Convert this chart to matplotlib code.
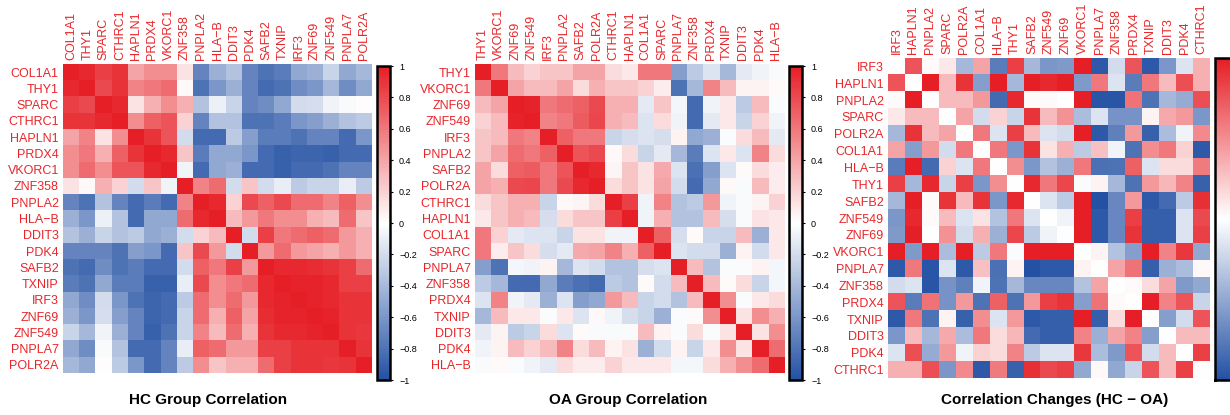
import numpy as np
import matplotlib
matplotlib.use("Agg")
import matplotlib.pyplot as plt
from matplotlib.colors import LinearSegmentedColormap

plt.rcParams['font.family'] = ['Liberation Sans', 'DejaVu Sans']

hc_genes = ["COL1A1", "THY1", "SPARC", "CTHRC1", "HAPLN1", "PRDX4", "VKORC1", "ZNF358",
            "PNPLA2", "HLA\u2212B", "DDIT3", "PDK4", "SAFB2", "TXNIP", "IRF3", "ZNF69",
            "ZNF549", "PNPLA7", "POLR2A"]
hc_corr = [
    [1.0, 0.95, 0.85, 0.9, 0.4, 0.5, 0.5, 0.12, -0.7, -0.45, -0.35, -0.7, -0.8, -0.75, -0.5, -0.45, -0.25, -0.5, -0.4],
    [0.95, 1.0, 0.8, 0.9, 0.55, 0.6, 0.65, 0.03, -0.8, -0.6, -0.45, -0.7, -0.85, -0.8, -0.65, -0.6, -0.4, -0.65, -0.5],
    [0.85, 0.8, 1.0, 0.95, 0.12, 0.35, 0.5, 0.35, -0.35, -0.08, -0.25, -0.7, -0.65, -0.5, -0.2, -0.18, -0.07, -0.03, 0.01],
    [0.9, 0.9, 0.95, 1.0, 0.5, 0.7, 0.75, 0.2, -0.7, -0.35, -0.35, -0.8, -0.8, -0.75, -0.6, -0.55, -0.45, -0.35, -0.3],
    [0.4, 0.55, 0.12, 0.5, 1.0, 0.9, 0.75, -0.2, -0.85, -0.85, -0.3, -0.55, -0.75, -0.75, -0.8, -0.7, -0.7, -0.85, -0.6],
    [0.5, 0.6, 0.35, 0.7, 0.9, 1.0, 0.95, 0.25, -0.75, -0.5, -0.5, -0.6, -0.85, -0.9, -0.88, -0.88, -0.9, -0.85, -0.85],
    [0.5, 0.65, 0.5, 0.75, 0.75, 0.95, 1.0, -0.07, -0.85, -0.5, -0.45, -0.85, -0.85, -0.9, -0.85, -0.85, -0.8, -0.7, -0.7],
    [0.12, 0.03, 0.35, 0.2, -0.2, 0.25, -0.07, 1.0, 0.55, 0.65, -0.2, 0.25, -0.2, -0.1, -0.3, -0.25, -0.25, -0.1, -0.3],
    [-0.7, -0.8, -0.35, -0.7, -0.85, -0.75, -0.85, 0.55, 1.0, 0.95, 0.2, 0.8, 0.7, 0.8, 0.65, 0.65, 0.55, 0.7, 0.5],
    [-0.45, -0.6, -0.08, -0.35, -0.85, -0.5, -0.5, 0.65, 0.95, 1.0, 0.3, 0.45, 0.6, 0.5, 0.5, 0.35, 0.3, 0.65, 0.25],
    [-0.35, -0.45, -0.25, -0.35, -0.3, -0.5, -0.45, -0.2, 0.2, 0.3, 1.0, -0.2, 0.85, 0.6, 0.65, 0.7, 0.65, 0.45, 0.35],
    [-0.7, -0.7, -0.7, -0.8, -0.55, -0.6, -0.85, 0.25, 0.8, 0.45, -0.2, 1.0, 0.45, 0.65, 0.45, 0.4, 0.35, 0.45, 0.35],
    [-0.8, -0.85, -0.65, -0.8, -0.75, -0.85, -0.85, -0.2, 0.7, 0.6, 0.85, 0.45, 1.0, 0.95, 0.95, 0.93, 0.9, 0.85, 0.65],
    [-0.75, -0.8, -0.5, -0.75, -0.75, -0.9, -0.9, -0.1, 0.8, 0.5, 0.6, 0.65, 0.95, 1.0, 0.97, 0.97, 0.95, 0.85, 0.85],
    [-0.5, -0.65, -0.2, -0.6, -0.8, -0.88, -0.85, -0.3, 0.65, 0.5, 0.65, 0.45, 0.95, 0.97, 1.0, 0.97, 0.95, 0.9, 0.9],
    [-0.45, -0.6, -0.18, -0.55, -0.7, -0.88, -0.85, -0.25, 0.65, 0.35, 0.7, 0.4, 0.93, 0.97, 0.97, 1.0, 0.97, 0.9, 0.9],
    [-0.25, -0.4, -0.07, -0.45, -0.7, -0.9, -0.8, -0.25, 0.55, 0.3, 0.65, 0.35, 0.9, 0.95, 0.95, 0.97, 1.0, 0.9, 0.88],
    [-0.5, -0.65, -0.03, -0.35, -0.85, -0.85, -0.7, -0.1, 0.7, 0.65, 0.45, 0.45, 0.85, 0.85, 0.9, 0.9, 0.9, 1.0, 0.9],
    [-0.4, -0.5, 0.01, -0.3, -0.6, -0.85, -0.7, -0.3, 0.5, 0.25, 0.35, 0.35, 0.65, 0.85, 0.9, 0.9, 0.88, 0.9, 1.0],
]

oa_genes = ["THY1", "VKORC1", "ZNF69", "ZNF549", "IRF3", "PNPLA2", "SAFB2", "POLR2A", "CTHRC1",
            "HAPLN1", "COL1A1", "SPARC", "PNPLA7", "ZNF358", "PRDX4", "TXNIP", "DDIT3", "PDK4",
            "HLA\u2212B"]
oa_corr = [
    [1.0, 0.6, 0.3, 0.2, 0.25, 0.25, 0.4, 0.4, 0.15, 0.1, 0.6, 0.6, -0.55, -0.3, -0.15, -0.4, -0.12, -0.07, -0.03],
    [0.6, 1.0, 0.4, 0.3, 0.3, 0.4, 0.15, 0.35, 0.25, 0.25, 0.2, 0.08, -0.8, -0.4, 0.55, 0.3, 0.05, 0.05, 0.02],
    [0.3, 0.4, 1.0, 0.97, 0.6, 0.65, 0.7, 0.8, 0.35, 0.35, -0.12, 0.25, -0.05, -0.85, -0.07, 0.1, -0.3, 0.3, -0.02],
    [0.2, 0.3, 0.97, 1.0, 0.55, 0.6, 0.72, 0.82, 0.35, 0.3, -0.15, 0.15, -0.07, -0.85, -0.12, 0.1, -0.25, 0.2, -0.07],
    [0.25, 0.3, 0.6, 0.55, 1.0, 0.7, 0.6, 0.6, -0.25, -0.18, -0.15, -0.18, 0.05, -0.5, -0.45, -0.02, 0.15, 0.3, -0.12],
    [0.25, 0.4, 0.65, 0.6, 0.7, 1.0, 0.75, 0.8, 0.03, 0.15, -0.25, -0.12, -0.4, -0.75, -0.15, 0.1, -0.15, 0.55, 0.15],
    [0.4, 0.15, 0.7, 0.72, 0.6, 0.75, 1.0, 0.95, 0.04, 0.25, 0.12, 0.38, -0.15, -0.82, -0.55, -0.15, 0.02, 0.15, 0.08],
    [0.4, 0.35, 0.8, 0.82, 0.6, 0.8, 0.95, 1.0, 0.15, 0.25, 0.12, 0.4, -0.2, -0.85, -0.5, 0.03, -0.03, 0.3, 0.08],
    [0.15, 0.25, 0.35, 0.35, -0.25, 0.03, 0.04, 0.15, 1.0, 0.85, -0.07, 0.55, -0.35, -0.3, 0.45, -0.07, -0.03, 0.05, 0.2],
    [0.1, 0.25, 0.35, 0.3, -0.18, 0.15, 0.25, 0.25, 0.85, 1.0, -0.07, 0.35, -0.35, -0.35, 0.3, -0.18, -0.03, 0.12, 0.1],
    [0.6, 0.2, -0.12, -0.15, -0.15, -0.25, 0.12, 0.12, -0.07, -0.07, 1.0, 0.7, -0.18, 0.02, -0.25, -0.25, 0.3, -0.45, 0.1],
    [0.6, 0.08, 0.25, 0.15, -0.18, -0.12, 0.38, 0.4, 0.55, 0.35, 0.7, 1.0, -0.15, -0.2, -0.2, -0.45, 0.05, -0.2, 0.1],
    [-0.55, -0.8, -0.05, -0.07, 0.05, -0.4, -0.15, -0.2, -0.35, -0.35, -0.18, -0.15, 1.0, 0.3, -0.35, -0.02, -0.02, 0.05, -0.05],
    [-0.3, -0.4, -0.85, -0.85, -0.5, -0.75, -0.82, -0.85, -0.3, -0.35, 0.02, -0.2, 0.3, 1.0, 0.3, 0.02, 0.15, -0.25, -0.05],
    [-0.15, 0.55, -0.07, -0.12, -0.45, -0.15, -0.55, -0.5, 0.45, 0.3, -0.25, -0.2, -0.35, 0.3, 1.0, 0.5, -0.02, 0.1, 0.15],
    [-0.4, 0.3, 0.1, 0.1, -0.02, 0.1, -0.15, 0.03, -0.07, -0.18, -0.25, -0.45, -0.02, 0.02, 0.5, 1.0, 0.12, 0.5, 0.35],
    [-0.12, 0.05, -0.3, -0.25, 0.15, -0.15, 0.02, -0.03, -0.03, -0.03, 0.3, 0.05, -0.02, 0.15, -0.02, 0.12, 1.0, 0.12, 0.5],
    [-0.07, 0.05, 0.3, 0.2, 0.3, 0.55, 0.15, 0.3, 0.05, 0.12, -0.45, -0.2, 0.05, -0.25, 0.1, 0.5, 0.12, 1.0, 0.65],
    [-0.03, 0.02, -0.02, -0.07, -0.12, 0.15, 0.08, 0.08, 0.2, 0.1, 0.1, 0.1, -0.05, -0.05, 0.15, 0.35, 0.5, 0.65, 1.0],
]

diff_genes = ["IRF3", "HAPLN1", "PNPLA2", "SPARC", "POLR2A", "COL1A1", "HLA\u2212B", "THY1", "SAFB2",
              "ZNF549", "ZNF69", "VKORC1", "PNPLA7", "ZNF358", "PRDX4", "TXNIP", "DDIT3", "PDK4",
              "CTHRC1"]
diff_corr = [
    [0.0, 0.75, 0.02, 0.1, -0.4, 0.4, -0.75, 0.85, -0.4, -0.6, -0.58, 1.0, -0.95, -0.2, 0.75, -0.95, -0.6, -0.15, 0.35],
    [0.75, 0.0, 1.0, 0.3, 0.9, -0.55, 1.0, -0.4, 1.0, 0.95, 1.0, -0.58, 0.6, -0.15, -0.75, 0.6, 0.3, 0.78, 0.35],
    [0.02, 1.0, 0.0, 0.3, 0.3, 0.45, -0.85, 0.95, 0.02, 0.02, 0.0, 1.0, -0.97, -0.97, 0.62, -0.8, -0.4, -0.48, 0.78],
    [0.1, 0.3, 0.3, 0.0, 0.4, -0.2, 0.2, -0.25, 0.9, 0.3, 0.48, -0.38, -0.15, -0.62, -0.62, 0.05, 0.38, 0.45, -0.6],
    [-0.4, 0.9, 0.3, 0.4, 0.0, 0.6, -0.15, 0.85, 0.3, -0.15, -0.2, 1.0, -0.95, -0.72, 0.45, -0.9, -0.38, -0.07, 0.52],
    [0.4, -0.55, 0.45, -0.2, 0.6, 0.0, 0.6, -0.6, 0.9, 0.12, 0.35, -0.3, 0.28, -0.07, -0.8, 0.5, 0.6, 0.2, -0.95],
    [-0.75, 1.0, -0.85, 0.2, -0.15, 0.6, 0.0, 0.5, -0.6, -0.35, -0.45, 0.6, -0.82, -0.8, 0.7, -0.15, 0.15, 0.15, 0.58],
    [0.85, -0.4, 0.95, -0.25, 0.85, -0.6, 0.5, 0.0, 0.95, 0.6, 0.82, -0.02, 0.05, -0.4, -0.8, 0.45, 0.32, 0.55, -0.9],
    [-0.4, 1.0, 0.02, 0.9, 0.3, 0.9, -0.6, 0.95, 0.0, -0.15, -0.3, 1.0, -1.0, -0.68, 0.45, -0.95, -0.85, -0.3, 0.92],
    [-0.6, 0.95, 0.02, 0.3, -0.15, 0.12, -0.35, 0.6, -0.15, 0.0, -0.07, 1.0, -0.95, -0.68, 0.85, -0.92, -0.92, -0.15, 0.8],
    [-0.58, 1.0, 0.0, 0.48, -0.2, 0.35, -0.45, 0.82, -0.3, -0.07, 0.0, 1.0, -0.95, -0.68, 0.9, -0.92, -0.92, -0.15, 0.85],
    [1.0, -0.58, 1.0, -0.38, 1.0, -0.3, 0.6, -0.02, 1.0, 1.0, 1.0, 0.0, 0.05, -0.35, -0.55, 1.0, 0.55, 0.88, -0.5],
    [-0.95, 0.6, -0.97, -0.15, -0.95, 0.28, -0.82, 0.05, -1.0, -0.95, -0.95, 0.05, 0.0, 0.4, 0.62, -0.92, -0.45, -0.38, 0.03],
    [-0.2, -0.15, -0.97, -0.62, -0.72, -0.07, -0.8, -0.4, -0.68, -0.68, -0.68, -0.35, 0.4, 0.0, 0.02, 0.15, 0.4, -0.58, -0.5],
    [0.75, -0.75, 0.62, -0.62, 0.45, -0.8, 0.7, -0.8, 0.45, 0.85, 0.9, -0.55, 0.62, 0.02, 0.0, 1.0, 0.55, 0.75, -0.25],
    [-0.95, 0.6, -0.8, 0.05, -0.9, 0.5, -0.15, 0.45, -0.95, -0.92, -0.92, 1.0, -0.92, 0.15, 1.0, 0.0, -0.55, -0.2, 0.75],
    [-0.6, 0.3, -0.4, 0.38, -0.38, 0.6, 0.15, 0.32, -0.85, -0.92, -0.92, 0.55, -0.45, 0.4, 0.55, -0.55, 0.0, 0.3, 0.3],
    [-0.15, 0.78, -0.48, 0.45, -0.07, 0.2, 0.15, 0.55, -0.3, -0.15, -0.15, 0.88, -0.38, -0.58, 0.75, -0.2, 0.3, 0.0, 0.85],
    [0.35, 0.35, 0.78, -0.6, 0.52, -0.95, 0.58, -0.9, 0.92, 0.8, 0.85, -0.5, 0.03, -0.5, -0.25, 0.75, 0.3, 0.85, 0.0],
]

titles = ["HC Group Correlation", "OA Group Correlation", "Correlation Changes (HC \u2212 OA)"]
cbar_ticks = [1, 0.8, 0.6, 0.4, 0.2, 0, -0.2, -0.4, -0.6, -0.8, -1]

cmap = LinearSegmentedColormap.from_list("bwr_custom", ["#2451A4", "#FFFFFF", "#E61E25"])
label_color = "#E8262A"

W, H = 1230, 415
fig = plt.figure(figsize=(W / 100, H / 100), dpi=100)


def fx(px):
    return px / W


def fy(py):
    return 1 - py / H


panels = [
    # heat left, top, right, bottom ; cbar left, right, top, bottom ; title x
    (hc_genes, hc_corr, (63, 64, 372, 373), (377, 390, 66, 380), 208, titles[0]),
    (oa_genes, oa_corr, (475, 64, 784, 373), (789, 802, 66, 380), 628, titles[1]),
    (diff_genes, diff_corr, (888, 58, 1210, 378), (1215, 1234, 58, 380), 1055, titles[2]),
]

for genes, corr, (l, t, r, b), (cl, cr, ct, cb), tx, title in panels:
    ax = fig.add_axes([fx(l), fy(b), fx(r - l), (b - t) / H])
    data = np.array(corr)
    im = ax.imshow(data, cmap=cmap, vmin=-1, vmax=1, aspect="auto", interpolation="nearest")
    n = len(genes)
    ax.set_xticks(range(n))
    ax.set_yticks(range(n))
    ax.set_xticklabels(genes, rotation=90, color=label_color, fontsize=9)
    ax.set_yticklabels(genes, color=label_color, fontsize=9)
    ax.xaxis.tick_top()
    ax.tick_params(length=0, pad=3)
    for s in ax.spines.values():
        s.set_visible(False)

    cax = fig.add_axes([fx(cl), fy(cb), fx(cr - cl), (cb - ct) / H])
    cbar = fig.colorbar(im, cax=cax, ticks=cbar_ticks)
    cbar.ax.set_yticklabels([("%g" % v).replace("-", "\u2212") for v in cbar_ticks])
    cbar.ax.tick_params(labelsize=6.5, length=2.5, width=0.8, pad=4)
    cbar.outline.set_linewidth(1.8)

    fig.text(fx(tx), fy(400), title, ha="center", va="center", fontsize=11,
             fontweight="bold", family=["Liberation Sans Narrow", "Liberation Sans", "DejaVu Sans"])

fig.savefig("out.png", dpi=100)
